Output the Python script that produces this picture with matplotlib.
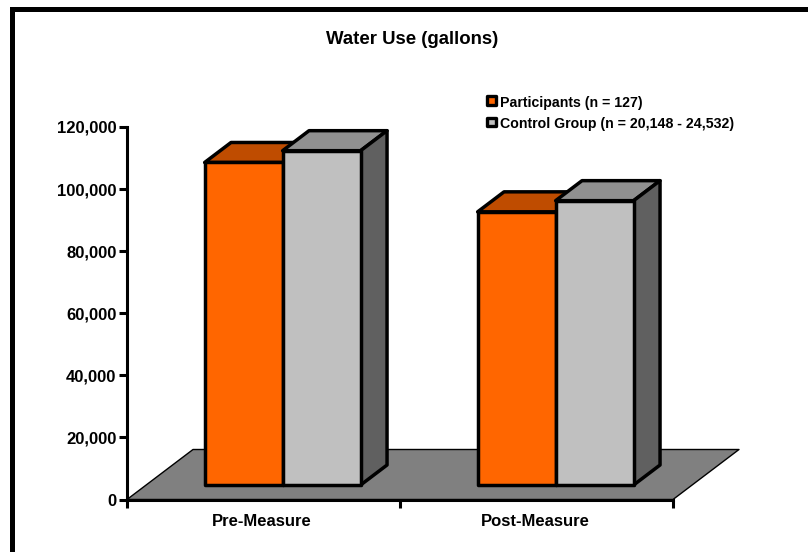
import matplotlib
matplotlib.use('Agg')
import matplotlib.pyplot as plt
from matplotlib.patches import Polygon, Rectangle

plt.rcParams['font.family'] = ['Liberation Sans', 'DejaVu Sans']
plt.rcParams['font.weight'] = 'bold'

categories = ['Pre-Measure', 'Post-Measure']
participants = [103900, 88000]
control = [107700, 91600]
series_names = ['Participants (n = 127)', 'Control Group (n = 20,148 - 24,532)']
y_ticks = [0, 20000, 40000, 60000, 80000, 100000, 120000]

W, H = 808, 552
fig = plt.figure(figsize=(W / 100, H / 100), dpi=100)

# axes box in pixels
left, right, top, bottom = 127, 673, 127, 499.5
ax = fig.add_axes([left / W, 1 - bottom / H, (right - left) / W, (bottom - top) / H])
ax.set_xlim(0, 2)
ax.set_ylim(0, 120000)
ax.patch.set_visible(False)

# fake 3D: full floor depth in data units
DX = 66 / 273
DY = 50 * 120000 / 372.5
BAR_W = 78 / 273
FRONT = 0.29
BACK = 0.69


def proj(x, v, d):
    return (x + DX * d, v + DY * d)


def poly(pts, color, lw=2.5, z=3):
    ax.add_patch(Polygon(pts, closed=True, facecolor=color, edgecolor='black',
                         linewidth=lw, joinstyle='round', clip_on=False, zorder=z))


# floor
poly([proj(0, 0, 0), proj(2, 0, 0), proj(2, 0, 1), proj(0, 0, 1)], '#808080', lw=1, z=1)


def bar3d(x, val, front_col, top_col, side_col, z):
    x2 = x + BAR_W
    poly([proj(x, val, FRONT), proj(x2, val, FRONT), proj(x2, val, BACK), proj(x, val, BACK)], top_col, z=z)
    poly([proj(x2, 0, FRONT), proj(x2, 0, BACK), proj(x2, val, BACK), proj(x2, val, FRONT)], side_col, z=z)
    poly([proj(x, 0, FRONT), proj(x2, 0, FRONT), proj(x2, val, FRONT), proj(x, val, FRONT)], front_col, z=z + 0.5)


for i in range(len(categories)):
    x0 = i + 0.5 - BAR_W
    bar3d(x0, participants[i], '#FF6600', '#BF4C00', '#BF4C00', 3 + i)
    bar3d(x0 + BAR_W, control[i], '#C0C0C0', '#909090', '#606060', 3.6 + i)

# axes
for s in ['top', 'right']:
    ax.spines[s].set_visible(False)
for s in ['left', 'bottom']:
    ax.spines[s].set_linewidth(2.2)
    ax.spines[s].set_zorder(10)
ax.set_yticks(y_ticks)
ax.set_yticklabels([f'{v:,}' for v in y_ticks], fontsize=12, fontweight='bold')
ax.set_xticks([0, 1, 2])
ax.set_xticklabels([])
ax.tick_params(axis='both', length=6, width=2.2, color='black', pad=1.5)
ax.tick_params(axis='x', direction='out')
for i, c in enumerate(categories):
    ax.annotate(c, xy=(i + 0.5, 0), xycoords='data', xytext=(-1.5, -14), textcoords='offset pixels',
                ha='center', va='top', fontsize=12, fontweight='bold', annotation_clip=False)

fig.text(412.5 / W, 1 - 40 / H, 'Water Use (gallons)', ha='center', va='center', fontsize=13.4, fontweight='bold')

# legend
for name, col, y in zip(series_names, ['#FF6600', '#C0C0C0'], [100.5, 122]):
    fig.patches.append(Rectangle((486.8 / W, 1 - (y + 4.4) / H), 8.8 / W, 8.8 / H, transform=fig.transFigure,
                                 facecolor=col, edgecolor='black', linewidth=2.4, joinstyle='round', figure=fig))
    fig.text(499.5 / W, 1 - (y + 2) / H, name, ha='left', va='center', fontsize=10.2, fontweight='bold')

# frame, only top and left
fig.patches.append(Rectangle((10 / W, 0), 5 / W, 1 - 7 / H, transform=fig.transFigure, facecolor='black',
                             edgecolor='none', figure=fig))
fig.patches.append(Rectangle((10 / W, 1 - 12 / H), 798 / W, 5 / H, transform=fig.transFigure, facecolor='black',
                             edgecolor='none', figure=fig))

fig.savefig('out.png', dpi=100)
